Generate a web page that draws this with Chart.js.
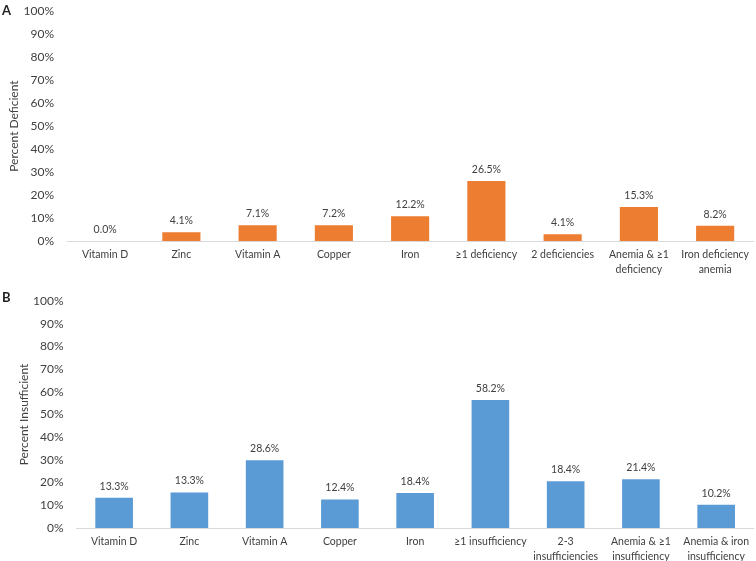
<!DOCTYPE html>
<html>
<head>
<meta charset="utf-8">
<script src="https://cdn.jsdelivr.net/npm/chart.js@4"></script>
<style>
  body { margin: 0; background: #fff; width: 756px; height: 561px; overflow: hidden; position: relative; font-family: Lato, sans-serif; }
  canvas { position: absolute; left: 0; }
  .tag { position: absolute; left: 2px; font: bold 13px Lato, sans-serif; color: #222; z-index: 2; }
</style>
</head>
<body>
<div class="tag" style="top:2px">A</div>
<div class="tag" style="top:289px">B</div>
<canvas id="chartA" width="756" height="287" style="top:-9px"></canvas>
<canvas id="chartB" width="756" height="283" style="top:278px"></canvas>
<script>
// panel A - deficiency
const catsA = ['Vitamin D', 'Zinc', 'Vitamin A', 'Copper', 'Iron', '≥1 deficiency', '2 deficiencies',
    ['Anemia & ≥1', 'deficiency'], ['Iron deficiency', 'anemia']];
const valsA = [0, 3.8, 6.8, 6.9, 10.8, 26.1, 2.9, 14.8, 6.6];
const textA = ['0.0%', '4.1%', '7.1%', '7.2%', '12.2%', '26.5%', '4.1%', '15.3%', '8.2%'];

// panel B - insufficiency
const catsB = ['Vitamin D', 'Zinc', 'Vitamin A', 'Copper', 'Iron', '≥1 insufficiency',
    ['2-3', 'insufficiencies'], ['Anemia & ≥1', 'insufficiency'], ['Anemia & iron', 'insufficiency']];
const valsB = [13.3, 15.6, 29.8, 12.6, 15.4, 56.4, 20.6, 21.5, 10.2];
const textB = ['13.3%', '13.3%', '28.6%', '12.4%', '18.4%', '58.2%', '18.4%', '21.4%', '10.2%'];

const yTicks = [0, 10, 20, 30, 40, 50, 60, 70, 80, 90, 100];

const labelPlugin = {
    id: 'barText',
    afterDatasetsDraw(chart) {
        const ctx = chart.ctx;
        const txt = chart.options.plugins.barText.text;
        const meta = chart.getDatasetMeta(0);
        ctx.save();
        ctx.font = '10.5px Lato, sans-serif';
        ctx.fillStyle = '#404040';
        ctx.textAlign = 'center';
        ctx.textBaseline = 'middle';
        meta.data.forEach((bar, i) => {
            ctx.fillText(txt[i], bar.x, bar.y - 11.5);
        });
        ctx.restore();
    }
};

function makePanel(id, cats, vals, txt, color, title, yWidth, xHeight, padTop, titlePad) {
    return new Chart(document.getElementById(id), {
        type: 'bar',
        data: {
            labels: cats,
            datasets: [{ data: vals, backgroundColor: color, barPercentage: 0.5, categoryPercentage: 1 }]
        },
        options: {
            responsive: false,
            animation: false,
            layout: { padding: { top: padTop, right: 0, left: 0, bottom: 0 } },
            plugins: {
                legend: { display: false },
                tooltip: { enabled: false },
                barText: { text: txt }
            },
            scales: {
                x: {
                    grid: { display: false, drawTicks: false },
                    border: { color: '#d9d9d9', width: 1 },
                    ticks: { color: '#404040', font: { family: 'Lato', size: 10.5, lineHeight: 1.35 }, padding: 7, maxRotation: 0, autoSkip: false },
                    afterFit(s) { s.height = xHeight; }
                },
                y: {
                    min: 0, max: 100,
                    afterBuildTicks(s) { s.ticks = yTicks.map(v => ({ value: v })); },
                    grid: { display: false, drawTicks: false },
                    border: { display: false },
                    ticks: { color: '#404040', font: { family: 'Lato', size: 12 }, padding: 13, callback: v => v + '%' },
                    title: { display: true, text: title, color: '#404040', font: { family: 'Lato', size: 12 }, padding: { top: titlePad, bottom: 0 } },
                    afterFit(s) { s.width = yWidth; }
                }
            }
        },
        plugins: [labelPlugin]
    });
}

makePanel('chartA', catsA, valsA, textA, '#ed7d31', 'Percent Deficient', 67, 37, 3, 7);
makePanel('chartB', catsB, valsB, textB, '#5b9bd5', 'Percent Insufficient', 76.5, 33, 23, 17);
</script>
</body>
</html>
